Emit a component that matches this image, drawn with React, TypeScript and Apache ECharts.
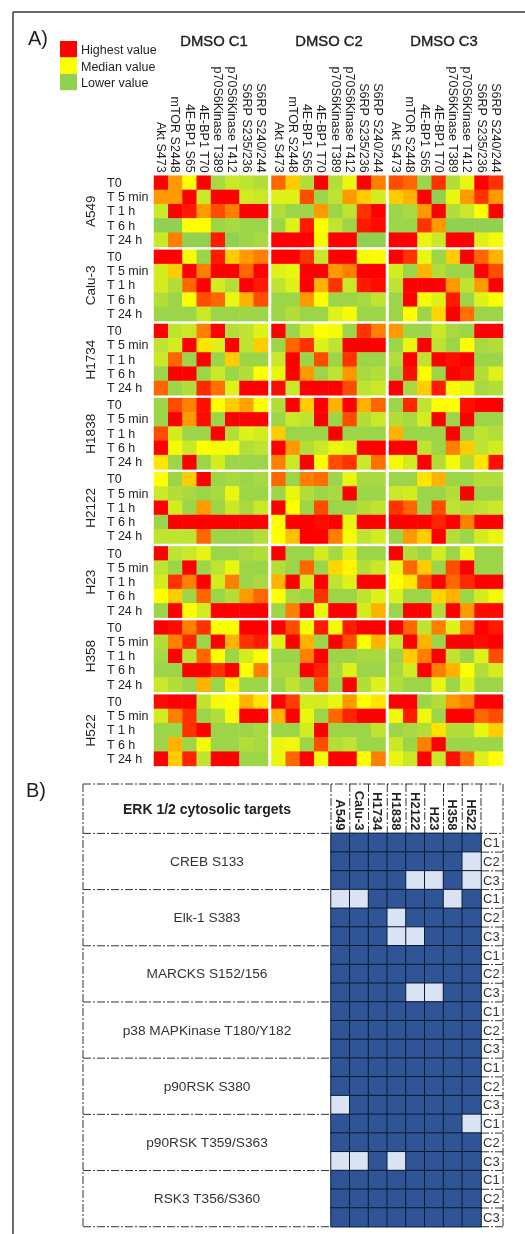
import React, { useEffect, useRef } from "react";
import * as echarts from "echarts";

const targets = ["Akt S473", "mTOR S2448", "4E-BP1 S65", "4E-BP1 T70", "p70S6Kinase T389", "p70S6Kinase T412", "S6RP S235/236", "S6RP S240/244"];
const times = ["T0", "T 5 min", "T 1 h", "T 6 h", "T 24 h"];
const cellLines = ["A549", "Calu-3", "H1734", "H1838", "H2122", "H23", "H358", "H522"];
const conditions = ["DMSO C1", "DMSO C2", "DMSO C3"];

// Heat levels on a 0 (green) - 5 (yellow) - 10 (red) scale
const a549C1 = [[10,7,5,10,1,2.5,2,1.5],[7,7,10,2.5,10,10,3,2.5],[2.5,10,9.5,7,8.5,7.5,10,10],[0,0,5,5,0.5,1,0.5,0.5],[2.5,7.5,0,0,9.5,0,0.5,1]];
const a549C2 = [[8,6,1.5,10,1.5,4,10,7.5],[3.5,3.5,8.5,0.5,2,7,6,3],[1.5,0.5,0.5,7,0.5,2,9,10],[0.5,3.5,9.5,5,2,0.5,9.5,9.8],[10,10,10,4.5,10,10,0,0]];
const a549C3 = [[8.5,8,0.5,9,1.5,4,10,9],[6,6.5,10,0,4,7,9,7],[0.5,1,7,10,1.5,2.5,5,10],[0.5,0.5,9,7,0,0,0,0],[10,10,4,2.5,10,10,3.5,4.5]];
const calu3C1 = [[10,10,4.5,0.5,9.5,6,7,7.5],[3,6,10,7.5,10,10,8,10],[3,1.5,8,10,3,1.5,10,9.5],[1.5,0.5,5,8.5,8,4,6.5,8.5],[0.5,0.5,0.5,2.5,0.5,0.5,0.5,0.5]];
const calu3C2 = [[10,10,9,2.5,10,10,4.5,4.8],[3.5,4,10,10,7,7.5,10,10],[2,3.5,10,6.5,9,2.5,9.5,9.8],[0.5,0.5,7,5,0.5,0.5,1,2],[0.5,1.5,0.5,0.5,3.5,4.5,0.5,0.5]];
const calu3C3 = [[10,9,4,0.5,6,10,8,6.5],[3,0.5,6.5,1.5,0.5,0.5,10,8.5],[2,10,10,10,7,2,7,10],[0.5,10,4.5,3.5,9.5,0.5,3.5,4.8],[0.5,5,0.5,5.8,10,7.8,0.5,0.5]];
const h1734C1 = [[10,2,2.5,7.5,10,1.5,2,3.5],[2,3,10,5.5,3.5,10,2,6],[2.5,8,0.5,10,0.5,6,0.5,0.5],[0.5,10,10,0.5,2.5,0.5,1.5,5],[8,0.5,1.5,9.2,7.8,3.5,10,10]];
const h1734C2 = [[10,0.5,3,5,4.5,0.5,9,7.5],[0.5,8,9,3.5,2,10,10,10],[2.5,10,0.5,8.5,0.5,9,0.5,0.5],[4,10,7,0.5,2,7,1,1.5],[9.8,2.5,10,10,10,8.5,2,2.5]];
const h1734C3 = [[7,0.5,0.5,2.5,1,0.5,10,10],[0.5,4,10,2,0.5,5,1,1.5],[1.5,10,2,10,9.7,10,0.5,0.5],[0.5,9.7,5,0.5,10,9.7,1.5,3.5],[10,1,6,9.5,4.8,4,1,1.5]];
const h1838C1 = [[0.5,8.5,7.5,9.7,5,6,6.8,5],[0.5,10,7,9.8,0.5,10,10,10],[8.5,3,0.5,0.5,10,1.5,3.5,3],[10,4.5,2.5,5,4.5,4.5,1.5,2],[5.5,0.5,10,0.5,3,0.5,0.5,0.5]];
const h1838C2 = [[1.5,10,6,10,6.5,10,6.5,8],[0.5,2.5,2,10,0.5,8.5,1.5,2.5],[6,0.5,0.5,0.5,10,0.5,0.5,0.5],[10,7,1.5,2.5,4,3.5,10,10],[7.5,2.5,10,5,8.5,9,2.5,7.8]];
const h1838C3 = [[0.5,9.2,2,5,5,9.7,10,10],[1.5,1,3,10,0.5,10,0.5,0.5],[6.5,0.5,0.5,0.5,10,0.5,2,1.5],[10,10,2,0.5,7.5,6,2,3],[4.5,3,10,1.5,4.5,1.5,5.5,9.7]];
const h2122C1 = [[5,0.5,6,10,0.5,1,0.5,1],[2.5,1.5,1,0.5,1,4,0.5,0.5],[10,3,0.5,7,0.5,2.5,1,2.5],[0.5,10,10,10,10,10,10,10],[2,2,2,8,0.5,0.5,0.5,1.5]];
const h2122C2 = [[8,0.5,7.5,7.8,0.5,4,1,1],[0.5,4,1.5,0.5,1,10,0.5,0.5],[10,5,0.5,8.5,0.5,0.5,1.5,2],[5,10,10,9.8,10,4,10,10],[5,6.2,10,10,7.5,4.5,2,3]];
const h2122C3 = [[0.5,0.5,5.5,6.5,0.5,0.5,1.5,1.5],[2.5,3,0.5,0.5,1.5,10,0.5,0.5],[9,8,0.5,8.5,2,1.5,2,2.5],[10,10,10,9.3,10,7.5,10,10],[0.5,7,6,10,1.5,0.5,3,4]];
const h23C1 = [[10,2,2.5,3.8,0.5,0.5,1,1.5],[2,0.5,10,0.5,2,4,0.5,0.5],[3,9,7.5,10,3,7.5,0.5,1],[5,6,0.5,8,0.5,1.5,7,8],[0.5,10,5,3,10,10,10,10]];
const h23C2 = [[10,0.5,0.5,3,1,3.5,0.5,0.5],[1.5,0.5,8,0.5,5.8,5.2,1.5,2.5],[6.5,10,3,10,2,3.5,10,10],[5,1,0.5,9,0.5,0.5,2,3.5],[0.5,7.5,10,4,10,10,3,6.5]];
const h23C3 = [[10,1.5,0.5,3,0.5,4,0.5,0.5],[4,8,6,0.5,8.5,10,0.5,0.5],[5,5.5,8.5,10,8,9.2,10,10],[3.5,0.5,0.5,5.8,6.5,0.5,3,4.5],[0.5,10,10,1.5,10,7,9.8,9.8]];
const h358C1 = [[10,9.8,7.5,9,5,4.8,10,10],[1.5,7.5,9.3,0.5,10,6.5,9,9.5],[1,10,2,8,5,0.5,3,5],[0.5,0.5,10,10,9,10,5,7.5],[2.5,1.5,0.5,6.5,0.5,5.3,0.5,0.5]];
const h358C2 = [[10,8.5,4.5,9.5,4.5,9.5,10,10],[3.5,10,6.5,0.5,10,8.5,5,6.5],[0.5,0.5,7.5,10,0.5,0.5,1,1],[1,1,10,9.3,1,3.5,0.5,0.5],[0.5,2,0.5,8.5,0.5,10,1.5,3.5]];
const h358C3 = [[10,8,2,7.5,3.5,7.5,10,9.5],[2.5,10,6.5,0.5,10,10,9.8,10],[0.5,6,7.5,10,2,0.5,3.5,8.5],[1,3,10,7.5,6.5,5,1.5,3],[1.5,0.5,0.5,4,0.5,3.5,0.5,0.5]];
const h522C1 = [[9.8,10,10,2,4.5,5,6.5,5.5],[3,7.5,9,0.5,1.5,4.5,10,10],[0.5,0.5,9,10,0.5,0.5,0.5,1],[0.5,6.5,0.5,4.5,0.5,0.5,1.5,1],[10,6,9.3,2,10,10,0.5,0.5]];
const h522C2 = [[10,8.8,3,3,4,7,5,5.5],[6.5,10,4,0.5,8,9.3,10,10],[0.5,0.5,3,10,0.5,0.5,0.5,2],[4,4.2,0.5,8.5,1.5,2,0.5,0.5],[4,8,10,4.5,10,10,5,7.5]];
const h522C3 = [[10,10,0.5,1.5,7,7.5,10,10],[4.3,9.5,4.3,0.5,10,10,8,8.5],[0.5,1,1.5,5.5,1.5,1.5,4,6],[2.5,0.5,7.5,10,0.5,0.5,0.5,0.5],[4,2.5,10,2.5,9.7,7.8,3.5,5]];

const heatPanels = [
  [a549C1, a549C2, a549C3], [calu3C1, calu3C2, calu3C3], [h1734C1, h1734C2, h1734C3], [h1838C1, h1838C2, h1838C3],
  [h2122C1, h2122C2, h2122C3], [h23C1, h23C2, h23C3], [h358C1, h358C2, h358C3], [h522C1, h522C2, h522C3],
];

const legendItems = ["Highest value", "Median value", "Lower value"];

const erkTargets = ["CREB S133", "Elk-1 S383", "MARCKS S152/156", "p38 MAPKinase T180/Y182", "p90RSK S380", "p90RSK T359/S363", "RSK3 T356/S360"];
const replicates = ["C1", "C2", "C3"];
// 1 = dark cell, 0 = light cell; one row per target replicate
const erkMatrix = [
  [1,1,1,1,1,1,1,1],[1,1,1,1,1,1,1,0],[1,1,1,1,0,0,1,0],
  [0,0,1,1,1,1,0,1],[1,1,1,0,1,1,1,1],[1,1,1,0,0,1,1,1],
  [1,1,1,1,1,1,1,1],[1,1,1,1,1,1,1,1],[1,1,1,1,0,0,1,1],
  [1,1,1,1,1,1,1,1],[1,1,1,1,1,1,1,1],[1,1,1,1,1,1,1,1],
  [1,1,1,1,1,1,1,1],[1,1,1,1,1,1,1,1],[0,1,1,1,1,1,1,1],
  [1,1,1,1,1,1,1,0],[1,1,1,1,1,1,1,1],[0,0,1,0,1,1,1,1],
  [1,1,1,1,1,1,1,1],[1,1,1,1,1,1,1,1],[1,1,1,1,1,1,1,1],
];

const FONT = '"Liberation Sans", Arial, sans-serif';
const INK = "#1f1f1f";

function buildOption() {
  const grid: any[] = [], xAxis: any[] = [], yAxis: any[] = [], series: any[] = [];
  const panelX = [154, 271.5, 389];
  const panelW = 114;
  const panelH = 71.25;
  const panelTop = 175.7;
  const pitch = 74.14;
  const heatSeries: number[] = [];

  heatPanels.forEach((line, li) => {
    line.forEach((rows, ci) => {
      const idx = grid.length;
      grid.push({ left: panelX[ci], top: panelTop + pitch * li, width: panelW, height: panelH, containLabel: false });
      xAxis.push({
        type: "category", gridIndex: idx, data: targets, position: "top",
        axisLine: { show: false }, axisTick: { show: false }, splitLine: { show: false },
        axisLabel: li === 0 ? { show: true, interval: 0, rotate: 90, margin: 3, fontFamily: FONT, fontSize: 12.5, color: INK } : { show: false },
      });
      yAxis.push({
        type: "category", gridIndex: idx, data: times, inverse: true,
        axisLine: { show: false }, axisTick: { show: false }, splitLine: { show: false },
        axisLabel: ci === 0 ? { show: true, interval: 0, align: "left", margin: 47, fontFamily: FONT, fontSize: 12.5, color: INK } : { show: false },
        ...(ci === 0 ? { name: cellLines[li], nameLocation: "middle", nameRotate: 90, nameGap: 57, nameTextStyle: { fontFamily: FONT, fontSize: 13.5, color: INK } } : {}),
      });
      heatSeries.push(series.length);
      const data: number[][] = [];
      rows.forEach((r, y) => r.forEach((v, x) => data.push([x, y, v])));
      series.push({ type: "heatmap", xAxisIndex: idx, yAxisIndex: idx, data, silent: true, itemStyle: { borderWidth: 0 }, emphasis: { disabled: true } });
    });
  });

  // Panel B
  const bx = 331, by = 833.4, cw = 18.75, rh = 18.73;
  const bIdx = grid.length;
  grid.push({ left: bx, top: by, width: cw * 8, height: rh * 21 });
  xAxis.push({
    type: "category", gridIndex: bIdx, data: cellLines, position: "top",
    axisLine: { show: false }, axisTick: { show: false }, splitLine: { show: false },
    axisLabel: { interval: 0, rotate: 90, margin: 3, fontFamily: FONT, fontSize: 13, fontWeight: "bold", color: INK },
  });
  yAxis.push({
    type: "category", gridIndex: bIdx, inverse: true, position: "right",
    data: erkMatrix.map((_, i) => replicates[i % 3]),
    axisLine: { show: false }, axisTick: { show: false }, splitLine: { show: false },
    axisLabel: { interval: 0, align: "left", margin: 2, fontFamily: FONT, fontSize: 13, color: "#333" },
  });
  const erkData: number[][] = [];
  erkMatrix.forEach((r, y) => r.forEach((v, x) => erkData.push([x, y, v])));
  const bSeries = series.length;
  series.push({ type: "heatmap", xAxisIndex: bIdx, yAxisIndex: bIdx, data: erkData, silent: true, itemStyle: { borderColor: "#0c1a33", borderWidth: 1 }, emphasis: { disabled: true } });

  // Decoration
  const graphic: any[] = [];
  const frame = { stroke: "#3a3a3a", lineWidth: 1.5 };
  graphic.push({ type: "line", shape: { x1: 13, y1: 12, x2: 525, y2: 12 }, style: frame });
  graphic.push({ type: "line", shape: { x1: 13, y1: 12, x2: 13, y2: 1234 }, style: frame });

  const text = (t: string, x: number, y: number, font: string, fill = INK, align = "left", extra: any = {}) =>
    graphic.push({ type: "text", x, y, style: { text: t, font, fill, textAlign: align, textVerticalAlign: "middle", ...extra } });

  text("A)", 28, 38, `20px ${FONT}`);
  text("B)", 26, 790, `20px ${FONT}`);
  const condX = [214, 329, 444];
  conditions.forEach((c, i) => text(c, condX[i], 41, `14.8px ${FONT}`, INK, "center", { stroke: INK, lineWidth: 0.4 }));

  const legendColors = ["#ff0000", "#ffff00", "#92d050"];
  legendItems.forEach((l, i) => {
    graphic.push({ type: "rect", shape: { x: 60, y: 41 + i * 16.4, width: 17, height: 16.4 }, style: { fill: legendColors[i] } });
    text(l, 81, 50 + i * 16.5, `12.5px ${FONT}`);
  });

  const dash = { stroke: "#333", lineWidth: 1, lineDash: [8, 2, 2, 2] };
  const left = 83, right = 503, top = 784, bottom = by + rh * 21;
  const ln = (x1: number, y1: number, x2: number, y2: number) => graphic.push({ type: "line", shape: { x1, y1, x2, y2 }, style: dash });
  ln(left, top, right, top);
  ln(left, top, left, bottom);
  ln(right, top, right, bottom);
  ln(left, bottom, bx, bottom);
  ln(bx + cw * 8, bottom, right, bottom);
  for (let k = 0; k <= 8; k++) ln(bx + cw * k, top, bx + cw * k, by);
  ln(left, by, right, by);
  erkTargets.forEach((t, i) => {
    const y0 = by + rh * 3 * i;
    if (i > 0) ln(left, y0, bx, y0);
    text(t, 207, y0 + rh * 1.5, `13.7px ${FONT}`, "#333", "center");
  });
  for (let r = 1; r < 21; r++) ln(bx + cw * 8, by + rh * r, right, by + rh * r);
  text("ERK 1/2 cytosolic targets", 207, 809, `bold 14px ${FONT}`, "#222", "center");

  return {
    animation: false,
    backgroundColor: "#ffffff",
    grid, xAxis, yAxis, series, graphic,
    visualMap: [
      { type: "continuous", show: false, min: 0, max: 10, seriesIndex: heatSeries, inRange: { color: ["#92d050", "#ffff00", "#ff0000"] } },
      { type: "continuous", show: false, min: 0, max: 1, seriesIndex: bSeries, inRange: { color: ["#dae3f3", "#2f5597"] } },
    ],
  };
}

export default function App() {
  const ref = useRef<HTMLDivElement>(null);
  useEffect(() => {
    document.body.style.margin = "0";
    const chart = echarts.init(ref.current!, undefined, { renderer: "svg" });
    chart.setOption(buildOption() as any);
    return () => chart.dispose();
  }, []);
  return <div ref={ref} style={{ position: "absolute", left: 0, top: 0, width: 525, height: 1234, overflow: "hidden", filter: "blur(0.45px)" }} />;
}
